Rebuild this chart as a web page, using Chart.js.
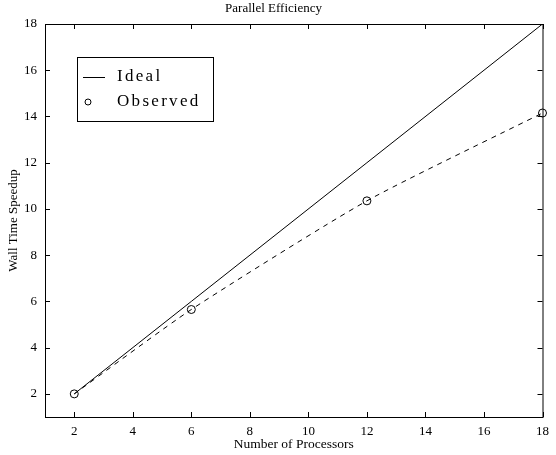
<!DOCTYPE html>
<html>
<head>
<meta charset="utf-8">
<script src="https://cdn.jsdelivr.net/npm/chart.js@4"></script>
<style>
    html, body { margin: 0; padding: 0; background: #fff; }
    #wrap { width: 556px; height: 455px; }
</style>
</head>
<body>
<div id="wrap"><canvas id="effChart" width="556" height="455"></canvas></div>
<script>
// speedup data
const processors = [2, 6, 12, 18];
const idealSpeedup = [2, 6, 12, 18];
const observedSpeedup = [2, 5.65, 10.35, 14.15];
const xTickValues = [2, 4, 6, 8, 10, 12, 14, 16, 18];
const yTickValues = [2, 4, 6, 8, 10, 12, 14, 16, 18];

const serif = "'Liberation Serif', 'DejaVu Serif', serif";

// frame with inward ticks on all four sides, matlab style
const framePlugin = {
    id: "frame",
    afterDraw(chart) {
        const { ctx, chartArea: a, scales } = chart;
        ctx.save();
        ctx.strokeStyle = "#000";
        ctx.lineWidth = 1;
        ctx.strokeRect(a.left + 0.5, a.top + 0.5, a.right - a.left, a.bottom - a.top);
        ctx.beginPath();
        scales.x.ticks.forEach(t => {
            const px = Math.round(scales.x.getPixelForValue(t.value)) + 0.5;
            ctx.moveTo(px, a.bottom); ctx.lineTo(px, a.bottom - 5);
            ctx.moveTo(px, a.top); ctx.lineTo(px, a.top + 5);
        });
        scales.y.ticks.forEach(t => {
            const py = Math.round(scales.y.getPixelForValue(t.value)) + 0.5;
            ctx.moveTo(a.left, py); ctx.lineTo(a.left + 5, py);
            ctx.moveTo(a.right, py); ctx.lineTo(a.right - 5, py);
        });
        ctx.stroke();
        ctx.restore();
    }
};

// legend box inside the plot area
const boxLegend = {
    id: "boxLegend",
    afterDraw(chart) {
        const { ctx, chartArea: a } = chart;
        const x0 = a.left + 32, y0 = a.top + 33;
        ctx.save();
        ctx.fillStyle = "#fff";
        ctx.fillRect(x0, y0, 136, 64);
        ctx.strokeStyle = "#000";
        ctx.lineWidth = 1;
        ctx.strokeRect(x0 + 0.5, y0 + 0.5, 136, 64);
        // Ideal entry
        ctx.beginPath();
        ctx.moveTo(x0 + 6, y0 + 20.5);
        ctx.lineTo(x0 + 28, y0 + 20.5);
        ctx.stroke();
        // Observed entry
        ctx.beginPath();
        ctx.arc(x0 + 11, y0 + 45, 3, 0, Math.PI * 2);
        ctx.stroke();
        ctx.fillStyle = "#000";
        ctx.font = "17px " + serif;
        ctx.letterSpacing = "2.3px";
        ctx.textBaseline = "middle";
        ctx.fillText(chart.data.datasets[0].label, x0 + 40, y0 + 20);
        ctx.fillText(chart.data.datasets[1].label, x0 + 40, y0 + 45);
        ctx.restore();
    }
};

const ctx = document.getElementById("effChart").getContext("2d");
const effChart = new Chart(ctx, {
    type: "line",
    data: {
        datasets: [{
            label: "Ideal",
            data: processors.map((p, i) => ({ x: p, y: idealSpeedup[i] })),
            borderColor: "#000",
            borderWidth: 1,
            pointRadius: 0,
            fill: false
        }, {
            label: "Observed",
            data: processors.map((p, i) => ({ x: p, y: observedSpeedup[i] })),
            borderColor: "#000",
            borderWidth: 1,
            borderDash: [5, 5],
            tension: 0.2,
            clip: false,
            pointRadius: 4,
            pointBorderWidth: 1,
            pointBorderColor: "#000",
            pointBackgroundColor: "rgba(0,0,0,0)",
            fill: false
        }]
    },
    options: {
        responsive: false,
        animation: false,
        layout: { padding: { left: 0, right: 9, top: 0, bottom: 0 } },
        plugins: {
            legend: { display: false },
            tooltip: { enabled: false },
            title: {
                display: true,
                text: "Parallel Efficiency",
                color: "#000",
                font: { family: serif, size: 13, weight: "normal" },
                padding: { top: 1, bottom: 7.4 }
            }
        },
        scales: {
            x: {
                type: "linear",
                min: 1,
                max: 18,
                afterBuildTicks: s => { s.ticks = xTickValues.map(v => ({ value: v })); },
                afterFit: s => { s.height = 38; },
                grid: { display: false, drawTicks: false },
                border: { display: false },
                ticks: { color: "#000", padding: 7, maxRotation: 0, font: { family: serif, size: 13 } },
                title: {
                    display: true,
                    text: "Number of Processors",
                    color: "#000",
                    font: { family: serif, size: 13.5 },
                    padding: { top: 0, bottom: 2 }
                }
            },
            y: {
                type: "linear",
                min: 1,
                max: 18,
                afterBuildTicks: s => { s.ticks = yTickValues.map(v => ({ value: v })); },
                afterFit: s => { s.width = 45; },
                grid: { display: false, drawTicks: false },
                border: { display: false },
                ticks: { color: "#000", padding: 8, font: { family: serif, size: 13 } },
                title: {
                    display: true,
                    text: "Wall Time Speedup",
                    color: "#000",
                    font: { family: serif, size: 13 },
                    padding: { top: 6, bottom: 0 }
                }
            }
        }
    },
    plugins: [framePlugin, boxLegend]
});
</script>
</body>
</html>
